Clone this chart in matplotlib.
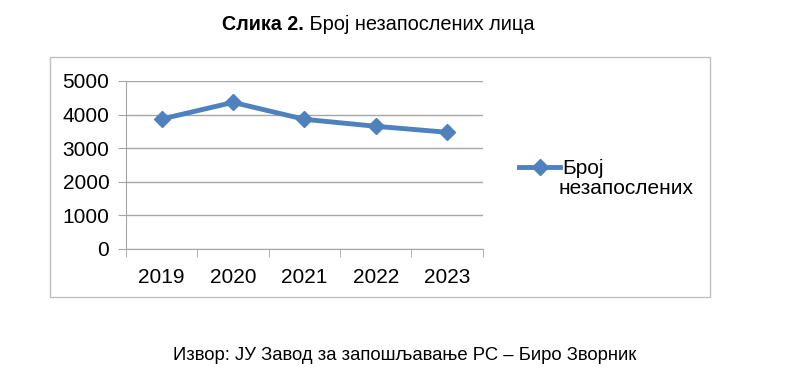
import matplotlib.pyplot as plt
from matplotlib.patches import Rectangle

plt.rcParams['font.family'] = ['Liberation Sans', 'DejaVu Sans']

years = ['2019', '2020', '2021', '2022', '2023']
unemployed = [3866, 4362, 3858, 3650, 3472]
series_name = 'Број'
series_name_2 = 'незапослених'

blue = '#4F81BD'
grid = '#A6A6A6'

fig = plt.figure(figsize=(8, 3.8), dpi=100)

# outer chart frame
fig.patches.append(Rectangle((0.0625, 0.218), 0.825, 0.632, transform=fig.transFigure,
                             fill=False, edgecolor='#BFBFBF', lw=1.0))

ax = fig.add_axes([0.1575, 0.345, 0.446, 0.442])
x = range(len(years))
ax.plot(x, unemployed, color=blue, lw=3.5, marker='D', ms=8, label=series_name, zorder=3)

ax.set_xlim(-0.5, len(years) - 0.5)
ax.set_ylim(0, 5000)
ax.set_yticks(range(0, 5001, 1000))
ax.set_xticks(list(x))
ax.set_xticklabels(years)
ax.set_xticks([i - 0.5 for i in range(len(years) + 1)], minor=True)
ax.tick_params(axis='x', which='major', length=0, pad=14, labelsize=15)
ax.tick_params(axis='x', which='minor', length=6, color=grid, direction='out')
ax.tick_params(axis='y', length=6, color=grid, labelsize=15, pad=6)
ax.grid(axis='y', color=grid, lw=1)
ax.set_axisbelow(True)
for s in ['top', 'right']:
    ax.spines[s].set_visible(False)
for s in ['left', 'bottom']:
    ax.spines[s].set_color(grid)

leg = fig.legend(loc='upper left', bbox_to_anchor=(0.625, 0.63), frameon=False,
                 fontsize=15, handlelength=2.0, handletextpad=0.1,
                 handles=ax.get_lines(), labels=[series_name])
fig.text(0.6975, 0.505, series_name_2, fontsize=15, va='center', ha='left')

# title: bold part + regular part
t1 = fig.text(0.2775, 0.935, 'Слика 2.', fontsize=14.2, fontweight='bold', ha='left', va='center')
fig.canvas.draw()
bb = t1.get_window_extent()
fig.text(bb.x1 / fig.bbox.width, 0.935, ' Број незапослених лица', fontsize=14.4,
         ha='left', va='center')

fig.text(0.506, 0.065, 'Извор: ЈУ Завод за запошљавање РС – Биро Зворник', fontsize=13.3,
         ha='center', va='center')

fig.savefig('out.png', dpi=100)
